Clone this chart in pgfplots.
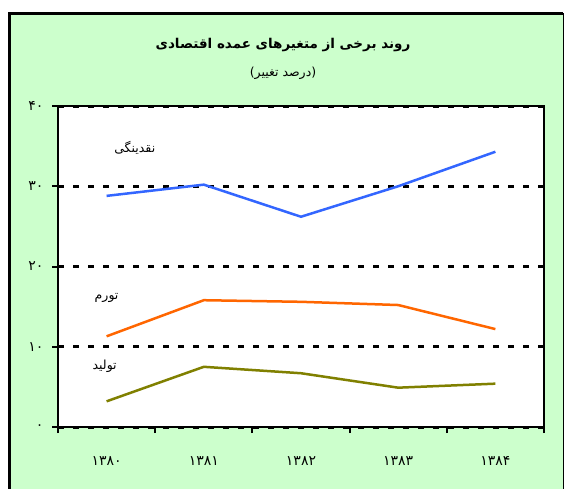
\documentclass[border=0pt]{standalone}
\usepackage{fontspec}
\usepackage{pgfplots}
\pgfplotsset{compat=1.18}
\setmainfont{DejaVu Sans}
\newfontfamily\fa[Script=Arabic]{DejaVu Sans}
\TeXXeTstate=1
\definecolor{bg}{HTML}{CCFFCC}
\definecolor{lblue}{HTML}{3366FF}
\definecolor{lorange}{HTML}{FF6600}
\definecolor{lolive}{HTML}{808000}
\begin{document}
\begin{tikzpicture}[x=1pt,y=1pt]
\useasboundingbox (0,0) rectangle (564,488);
\fill[bg] (9.5,-10) rectangle (563,474.5);
\draw[line width=3pt] (9.5,-10) -- (9.5,474.5) -- (563,474.5);
\draw[line width=1pt] (563,474.5) -- (563,-10);
\node[font=\fa\bfseries\fontsize{13.5}{16}\selectfont] at (283,443) {\beginR روند برخی از متغیرهای عمده اقتصادی\endR};
\node[font=\fa\fontsize{12.5}{14}\selectfont] at (283,415) {\beginR (درصد تغییر)\endR};
\begin{axis}[at={(58pt,61pt)}, anchor=south west, scale only axis,
  width=486pt, height=321pt,
  xmin=-0.5, xmax=4.5, ymin=0, ymax=40,
  axis background/.style={fill=white},
  axis line style={line width=2.5pt},
  ytick={0,10,20,30,40},
  yticklabels={۰,۱۰,۲۰,۳۰,۴۰},
  xtick={0,1,2,3,4},
  xticklabels={۱۳۸۰,۱۳۸۱,۱۳۸۲,۱۳۸۳,۱۳۸۴},
  minor xtick={-0.5,0.5,1.5,2.5,3.5,4.5},
  xtick pos=bottom, ytick pos=left,
  tick align=outside,
  major tick length=6pt, minor tick length=6pt,
  major x tick style={draw=none},
  minor x tick style={black, line width=2pt},
  major y tick style={black, line width=2pt},
  tick label style={font=\fa\fontsize{14}{16}\selectfont},
  yticklabel style={xshift=-5pt},
  xticklabel style={yshift=-20pt},
  ymajorgrids,
  major grid style={black, line width=3pt, dash pattern=on 6pt off 9pt},
  clip=false,
]
\addplot[lblue, line width=2.5pt] coordinates {(0,28.8) (1,30.2) (2,26.2) (3,30.0) (4,34.3)};
\addplot[lorange, line width=2.5pt] coordinates {(0,11.3) (1,15.8) (2,15.6) (3,15.2) (4,12.2)};
\addplot[lolive, line width=2.5pt] coordinates {(0,3.2) (1,7.5) (2,6.7) (3,4.9) (4,5.4)};
\node[font=\fa\fontsize{12.5}{14}\selectfont] at (axis cs:0.29,34.8) {\beginR نقدینگی\endR};
\node[font=\fa\fontsize{12.5}{14}\selectfont] at (axis cs:0.0,16.1) {\beginR تورم\endR};
\node[font=\fa\fontsize{12.5}{14}\selectfont] at (axis cs:-0.02,7.6) {\beginR تولید\endR};
\end{axis}
\end{tikzpicture}
\end{document}
